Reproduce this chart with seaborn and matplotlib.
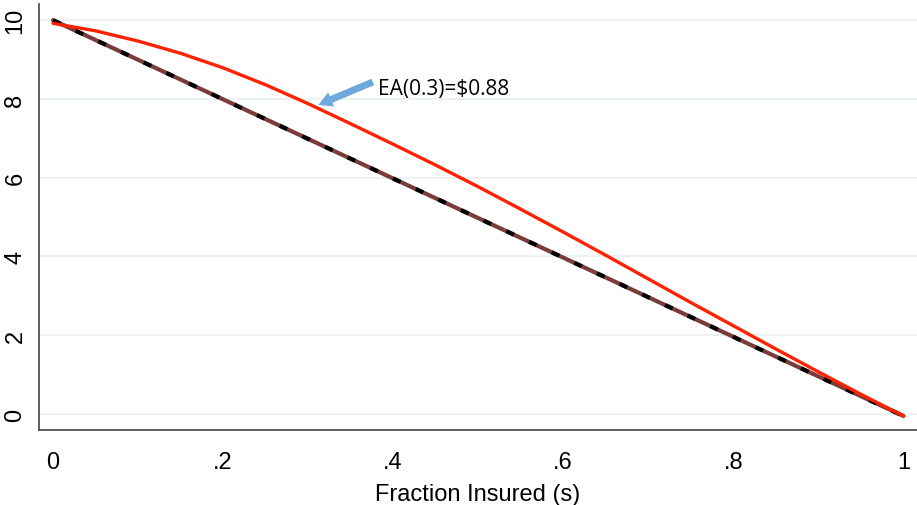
import matplotlib
matplotlib.use('Agg')
import matplotlib.pyplot as plt
import seaborn as sns
import numpy as np
import pandas as pd

# red curve
s_red = [0, 0.05, 0.1, 0.15, 0.2, 0.25, 0.3, 0.35, 0.4, 0.45, 0.5,
         0.55, 0.6, 0.65, 0.7, 0.75, 0.8, 0.85, 0.9, 0.95, 1.0]
value_red = [9.92, 9.73, 9.47, 9.16, 8.79, 8.36, 7.88, 7.37, 6.85, 6.32, 5.77,
             5.20, 4.62, 4.03, 3.43, 2.83, 2.24, 1.65, 1.07, 0.50, -0.05]

# straight line (solid maroon + black dashed on top)
s_line = [0.0, 1.0]
value_line = [10.0, -0.05]

x_ticks = [0, 0.2, 0.4, 0.6, 0.8, 1.0]
x_ticklabels = ['0', '.2', '.4', '.6', '.8', '1']
y_ticks = [0, 2, 4, 6, 8, 10]

sns.set_style('white')
plt.rcParams['font.family'] = ['Liberation Sans', 'DejaVu Sans']
plt.rcParams['text.color'] = 'black'
plt.rcParams['xtick.labelcolor'] = 'black'
plt.rcParams['ytick.labelcolor'] = 'black'
plt.rcParams['axes.labelcolor'] = 'black'

red_df = pd.DataFrame({'s': s_red, 'value': value_red})
line_df = pd.DataFrame({'s': s_line, 'value': value_line})

fig = plt.figure(figsize=(9.17, 5.06), dpi=100)
ax = fig.add_axes([0.0425, 0.148, 0.9575, 0.842])

for y in y_ticks:
    ax.axhline(y, color='#eaf2f2', lw=1.5, zorder=0)

sns.lineplot(data=line_df, x='s', y='value', color='#7a3b3b', lw=3, ax=ax)
sns.lineplot(data=line_df, x='s', y='value', color='black', lw=3,
             linestyle=(0, (2, 4)), ax=ax)
sns.lineplot(data=red_df, x='s', y='value', color='#ff2200', lw=2.4, ax=ax)

ax.annotate('', xy=(0.312, 7.85), xytext=(0.376, 8.43),
            arrowprops=dict(arrowstyle='simple,head_length=1.0,head_width=1.1,tail_width=0.5',
                            color='#6fa8dc', lw=0, shrinkA=0, shrinkB=0))
ax.text(0.382, 8.26, 'EA(0.3)=$0.88', fontsize=15, family=['Open Sans', 'DejaVu Sans'],
        va='center', ha='left', color='black')

ax.set_xlim(-0.0165, 1.016)
ax.set_ylim(-0.41, 10.41)
ax.set_xticks(x_ticks)
ax.set_xticklabels(x_ticklabels, fontsize=17)
ax.set_yticks(y_ticks)
ax.set_yticklabels([str(v) for v in y_ticks], rotation=90, va='center', fontsize=17)
ax.tick_params(axis='both', length=7, width=1.2, color='#444444')
ax.tick_params(axis='x', pad=8)
ax.tick_params(axis='y', pad=2)
ax.set_xlabel('Fraction Insured (s)', fontsize=17, labelpad=7)
ax.set_ylabel('')

sns.despine(ax=ax)
for side in ['left', 'bottom']:
    ax.spines[side].set_color('#444444')
    ax.spines[side].set_linewidth(1.2)

plt.savefig('out.png', dpi=100)
plt.close()
